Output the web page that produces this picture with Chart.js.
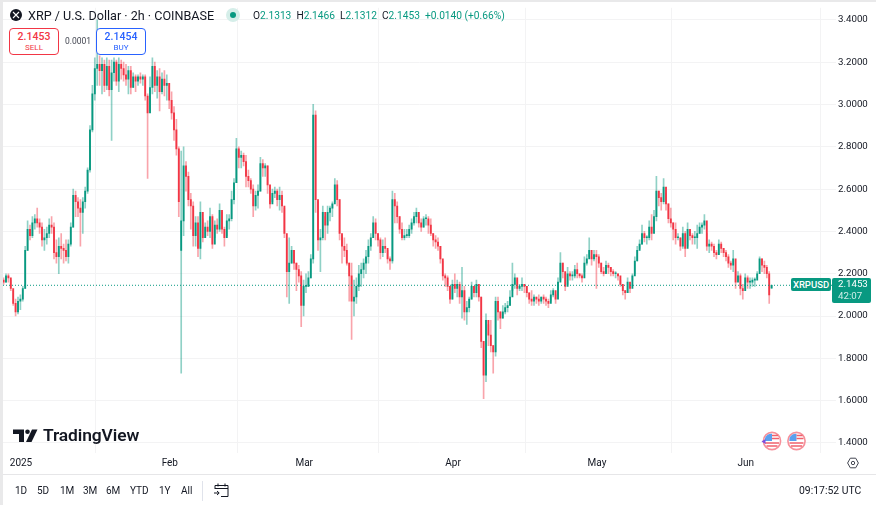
<!DOCTYPE html>
<html>
<head>
<meta charset="utf-8">
<script src="https://cdn.jsdelivr.net/npm/chart.js@4/dist/chart.umd.min.js"></script>
<style>
    html, body { margin: 0; padding: 0; background: #fff; }
    #wrap { position: relative; width: 876px; height: 505px; overflow: hidden; font-family: Roboto, sans-serif; color: #131722; }
    #wrap canvas { position: absolute; left: 0; top: 0; }
    .abs { position: absolute; white-space: nowrap; }
    .band { position: absolute; background: #e9e9ea; }
    .box { position: absolute; top: 28px; height: 25px; width: 48px; background: #fff; border: 1px solid; border-radius: 4px; text-align: center; }
    .box b { display: block; font-weight: 500; font-size: 10.5px; line-height: 13px; margin-top: 1px; }
    .box span { display: block; font-size: 8px; line-height: 10px; }
    .teal { color: #089981; }
    .range { top: 485px; font-size: 10px; line-height: 12px; }
</style>
</head>
<body>
<div id="wrap">
    <canvas id="price-chart" width="876" height="505"></canvas>

    <div class="band" style="left:0;top:0;width:876px;height:2px"></div>
    <div class="band" style="left:0;top:0;width:3px;height:505px"></div>
    <div class="abs" style="left:3px;top:474px;width:873px;height:1px;background:#e6e6e8"></div>
    <div class="abs" style="left:202px;top:481px;width:1px;height:20px;background:#e0e3eb"></div>

    <svg class="abs" style="left:10px;top:9px" width="12" height="12" viewBox="0 0 12 12">
        <circle cx="6" cy="6" r="6" fill="#131722"/>
        <path d="M3 3 L9 9 M9 3 L3 9" stroke="#fff" stroke-width="1.1"/>
    </svg>
    <div class="abs" style="left:28px;top:8px;font-size:12.6px;line-height:15px">XRP / U.S. Dollar · 2h · COINBASE</div>
    <svg class="abs" style="left:226px;top:8px" width="14" height="14" viewBox="0 0 14 14">
        <circle cx="7" cy="7" r="7" fill="#d5eee9"/>
        <circle cx="7" cy="7" r="3" fill="#089981"/>
    </svg>
    <div class="abs" style="left:253px;top:9px;font-size:10.2px;line-height:13px">O<span class="teal">2.1313</span>&nbsp; H<span class="teal">2.1466</span>&nbsp; L<span class="teal">2.1312</span>&nbsp; C<span class="teal">2.1453</span>&nbsp; <span class="teal">+0.0140 (+0.66%)</span></div>

    <div class="box" style="left:9px;border-color:#f23645;color:#f23645"><b>2.1453</b><span>SELL</span></div>
    <div class="abs" style="left:65px;top:36px;font-size:8.5px;line-height:11px;color:#434651">0.0001</div>
    <div class="box" style="left:96px;border-color:#2962ff;color:#2962ff"><b>2.1454</b><span>BUY</span></div>

    <div class="abs" style="left:791px;top:278px;width:40px;height:13px;background:#089981;color:#fff;font-size:9.5px;font-weight:500;line-height:13px;text-align:center;border-radius:2px">XRPUSD</div>
    <div class="abs" style="left:832px;top:278px;width:33px;height:25px;background:#089981;border-radius:2px;color:#fff;font-size:9.7px;line-height:12px;padding-top:0;padding-left:6px">2.1453<br><span style="color:#cfeee8">42:07</span></div>

    <svg class="abs" style="left:12px;top:428px" width="26" height="15" viewBox="0 0 26 15">
        <path d="M1 1.5 H12 V14 H7 V6 H1 Z" fill="#131722"/>
        <circle cx="15.5" cy="3.7" r="2.3" fill="#131722"/>
        <path d="M20 1.5 H25.5 L19.5 14 H14 Z" fill="#131722"/>
    </svg>
    <div class="abs" style="left:43px;top:425px;font-size:17.4px;font-weight:600;line-height:21px;letter-spacing:-0.1px">TradingView</div>

    <svg class="abs" style="left:760px;top:431px" width="48" height="20" viewBox="0 0 48 20">
        <circle cx="12" cy="10" r="8.6" fill="#fff" stroke="#f6909a" stroke-width="1.6"/>
        <path d="M5 7 A7.2 7.2 0 0 1 12 2.8 V10 H4.8 Z" fill="#5aa0ee"/>
        <path d="M12 4.5 H18 M12 7.5 H19 M5 12 H19 M6.5 15 H17.5" stroke="#f0616d" stroke-width="1.6"/>
        <path d="M1.5 10.5 L5.5 8 V13 Z" fill="#7b4fe0"/>
        <circle cx="36.5" cy="10" r="8.6" fill="#fff" stroke="#f6909a" stroke-width="1.6"/>
        <path d="M29.5 7 A7.2 7.2 0 0 1 36.5 2.8 V10 H29.3 Z" fill="#5aa0ee"/>
        <path d="M36.5 4.5 H42.5 M36.5 7.5 H43.5 M29.5 12 H43.5 M31 15 H42 " stroke="#f0616d" stroke-width="1.6"/>
    </svg>

    <svg class="abs" style="left:847px;top:457px" width="12" height="12" viewBox="0 0 12 12">
        <path d="M3.3 1.2 H8.7 L11.4 6 L8.7 10.8 H3.3 L0.6 6 Z" fill="none" stroke="#434651" stroke-width="1"/>
        <circle cx="6" cy="6" r="1.7" fill="none" stroke="#434651" stroke-width="1"/>
    </svg>

    <div class="abs range" style="left:15px">1D</div>
    <div class="abs range" style="left:37px">5D</div>
    <div class="abs range" style="left:60px">1M</div>
    <div class="abs range" style="left:83px">3M</div>
    <div class="abs range" style="left:106px">6M</div>
    <div class="abs range" style="left:130px">YTD</div>
    <div class="abs range" style="left:159px">1Y</div>
    <div class="abs range" style="left:181px">All</div>
    <svg class="abs" style="left:213px;top:482px" width="17" height="16" viewBox="0 0 17 16">
        <path d="M2 7 V3.5 H15 V14.5 H8 M2 6.5 H15 M5 1.5 V4.5 M12 1.5 V4.5 M1 11 H6 M4 9 L6.2 11 L4 13" fill="none" stroke="#131722" stroke-width="1"/>
    </svg>
    <div class="abs" style="left:799px;top:485px;font-size:10.4px;line-height:12px">09:17:52 UTC</div>
</div>

<script>
// xrp/usd candles, one every half day
const firstCandleDay = -3.625;
const candleStep = 0.5;

const opens = [
    2.17,2.16,2.19,2.18,2.13, 2.06,2.02,2.07,2.08,2.13, 2.31,2.41,2.38,2.44,2.46, 2.44,2.42,2.36,2.37,2.39,
    2.43,2.42,2.30,2.28,2.33, 2.32,2.31,2.28,2.34,2.42, 2.57,2.54,2.51,2.49,2.54, 2.59,2.69,2.88,3.05,3.17,
    3.19,3.16,3.19,3.09,3.18, 3.07,3.15,3.20,3.11,3.19, 3.17,3.14,3.12,3.16,3.08, 3.13,3.11,3.13,3.12,3.13,
    3.04,2.96,3.08,3.18,3.09, 3.13,3.06,3.12,3.09,3.10, 3.02,2.96,2.88,2.79,2.31, 2.45,2.71,2.66,2.55,2.52,
    2.38,2.44,2.32,2.49,2.37, 2.42,2.40,2.47,2.34,2.43, 2.41,2.50,2.41,2.37,2.45, 2.46,2.55,2.63,2.79,2.75,
    2.76,2.73,2.66,2.64,2.60, 2.52,2.57,2.59,2.72,2.70, 2.71,2.62,2.53,2.58,2.59, 2.55,2.57,2.52,2.39,2.21,
    2.25,2.31,2.25,2.22,2.19, 2.05,2.14,2.14,2.18,2.27, 2.95,2.55,2.36,2.37,2.49, 2.43,2.49,2.51,2.53,2.62,
    2.55,2.39,2.33,2.31,2.25, 2.19,2.07,2.09,2.14,2.20, 2.22,2.25,2.28,2.33,2.37, 2.44,2.39,2.36,2.30,2.33,
    2.32,2.27,2.26,2.55,2.52, 2.47,2.41,2.37,2.38,2.38, 2.41,2.44,2.47,2.49,2.44, 2.42,2.46,2.46,2.43,2.39,
    2.36,2.35,2.33,2.27,2.19, 2.18,2.14,2.08,2.15,2.13, 2.15,2.09,2.12,2.02,2.04, 2.08,2.14,2.11,2.15,2.09,
    1.88,1.72,1.98,1.91,1.86, 1.83,2.07,2.02,1.99,2.02, 2.04,2.05,2.09,2.15,2.18, 2.13,2.14,2.15,2.14,2.11,
    2.08,2.07,2.09,2.08,2.07, 2.09,2.08,2.07,2.06,2.10, 2.12,2.08,2.16,2.25,2.21, 2.14,2.20,2.19,2.19,2.22,
    2.20,2.19,2.18,2.25,2.27, 2.31,2.27,2.29,2.28,2.25, 2.21,2.20,2.24,2.23,2.21, 2.20,2.20,2.19,2.15,2.12,
    2.11,2.16,2.13,2.19,2.26, 2.31,2.34,2.39,2.37,2.37, 2.42,2.39,2.47,2.59,2.56, 2.54,2.61,2.53,2.46,2.44,
    2.41,2.37,2.37,2.33,2.39, 2.32,2.41,2.38,2.37,2.37, 2.39,2.42,2.43,2.45,2.33, 2.34,2.33,2.30,2.29,2.34,
    2.32,2.30,2.28,2.25,2.24, 2.27,2.16,2.19,2.13,2.12, 2.18,2.16,2.16,2.17,2.17, 2.20,2.27,2.24,2.23,2.20,
    2.1313
];
const highs = [
    2.18,2.20,2.20,2.17,2.12, 2.08,2.09,2.10,2.14,2.33, 2.45,2.43,2.47,2.48,2.51, 2.46,2.44,2.41,2.42,2.46,
    2.47,2.44,2.36,2.37,2.39, 2.34,2.36,2.36,2.44,2.60, 2.59,2.56,2.55,2.56,2.61, 2.70,2.90,3.09,3.22,3.40,
    3.23,3.22,3.21,3.22,3.21, 3.21,3.22,3.21,3.22,3.21, 3.20,3.19,3.18,3.18,3.15, 3.14,3.14,3.15,3.14,3.14,
    3.05,3.13,3.22,3.20,3.16, 3.17,3.15,3.16,3.14,3.10, 3.06,2.99,2.93,2.80,2.78, 2.80,2.73,2.68,2.58,2.54,
    2.47,2.47,2.54,2.46,2.44, 2.45,2.51,2.48,2.45,2.46, 2.53,2.49,2.42,2.48,2.48, 2.59,2.65,2.84,2.80,2.78,
    2.77,2.76,2.69,2.65,2.62, 2.59,2.62,2.75,2.74,2.72, 2.71,2.59,2.60,2.61,2.60, 2.61,2.59,2.51,2.36,2.37,
    2.33,2.31,2.25,2.24,2.21, 2.17,2.20,2.21,2.29,3.00, 2.97,2.54,2.41,2.52,2.47, 2.52,2.52,2.54,2.65,2.64,
    2.55,2.38,2.37,2.34,2.25, 2.25,2.17,2.18,2.24,2.25, 2.27,2.31,2.36,2.39,2.47, 2.46,2.39,2.37,2.36,2.37,
    2.31,2.28,2.59,2.58,2.54, 2.47,2.44,2.41,2.41,2.43, 2.46,2.49,2.51,2.47,2.46, 2.47,2.48,2.47,2.46,2.39,
    2.38,2.37,2.33,2.26,2.20, 2.19,2.14,2.17,2.20,2.17, 2.16,2.23,2.14,2.07,2.09, 2.16,2.14,2.17,2.15,2.09,
    1.88,2.01,1.96,1.98,1.86, 2.09,2.09,2.02,2.05,2.06, 2.07,2.12,2.25,2.20,2.17, 2.15,2.18,2.15,2.14,2.11,
    2.12,2.10,2.09,2.10,2.09, 2.10,2.09,2.08,2.12,2.13, 2.10,2.18,2.30,2.25,2.20, 2.23,2.21,2.21,2.24,2.25,
    2.20,2.20,2.28,2.29,2.37, 2.28,2.31,2.31,2.29,2.25, 2.23,2.26,2.25,2.23,2.22, 2.21,2.20,2.17,2.14,2.12,
    2.18,2.15,2.20,2.28,2.33, 2.36,2.43,2.40,2.38,2.45, 2.48,2.50,2.66,2.59,2.58, 2.65,2.58,2.53,2.51,2.44,
    2.44,2.39,2.37,2.42,2.40, 2.44,2.40,2.39,2.40,2.43, 2.44,2.44,2.48,2.39,2.36, 2.35,2.34,2.31,2.36,2.35,
    2.32,2.31,2.29,2.26,2.31, 2.21,2.21,2.20,2.15,2.20, 2.19,2.18,2.18,2.18,2.21, 2.28,2.27,2.26,2.24,2.21,
    2.1466
];
const lows = [
    2.15,2.16,2.16,2.12,2.05, 2.00,2.01,2.03,2.07,2.13, 2.31,2.36,2.37,2.41,2.42, 2.39,2.33,2.31,2.34,2.37,
    2.39,2.27,2.25,2.20,2.27, 2.25,2.26,2.25,2.33,2.42, 2.47,2.47,2.33,2.39,2.51, 2.58,2.68,2.87,3.02,3.09,
    3.09,3.05,3.06,3.07,3.04, 2.83,3.11,3.09,3.06,3.12, 3.11,3.09,3.05,3.05,3.08, 3.06,3.09,3.10,3.09,3.02,
    2.65,2.97,3.05,3.06,3.03, 2.97,3.05,3.04,3.02,2.98, 2.93,2.83,2.76,2.47,1.73, 2.38,2.59,2.52,2.41,2.33,
    2.33,2.28,2.27,2.35,2.37, 2.38,2.37,2.32,2.37,2.39, 2.40,2.39,2.33,2.38,2.41, 2.45,2.53,2.63,2.70,2.70,
    2.71,2.61,2.61,2.58,2.47, 2.50,2.51,2.59,2.66,2.66, 2.58,2.51,2.54,2.56,2.52, 2.50,2.49,2.37,2.09,2.06,
    2.25,2.22,2.12,2.16,1.95, 2.00,2.11,2.14,2.18,2.25, 2.49,2.31,2.21,2.36,2.36, 2.39,2.45,2.47,2.54,2.52,
    2.36,2.25,2.28,2.24,2.07, 1.89,2.00,2.06,2.12,2.14, 2.18,2.20,2.25,2.31,2.37, 2.36,2.33,2.27,2.28,2.30,
    2.25,2.22,2.25,2.44,2.44, 2.39,2.36,2.36,2.37,2.37, 2.39,2.43,2.44,2.42,2.40, 2.42,2.43,2.39,2.38,2.33,
    2.32,2.31,2.25,2.17,2.14, 2.12,2.06,2.08,2.11,2.09, 2.06,1.99,1.98,1.96,2.02, 2.08,2.09,2.09,2.07,1.85,
    1.61,1.69,1.86,1.83,1.73, 1.81,1.98,1.94,1.99,2.01, 2.02,2.05,2.12,2.13,2.10, 2.12,2.12,2.11,2.09,2.06,
    2.05,2.05,2.06,2.05,2.06, 2.06,2.05,2.04,2.07,2.09, 2.06,2.10,2.17,2.18,2.12, 2.15,2.17,2.17,2.18,2.18,
    2.18,2.16,2.21,2.24,2.28, 2.24,2.26,2.13,2.23,2.20, 2.19,2.21,2.20,2.19,2.19, 2.18,2.17,2.14,2.10,2.08,
    2.11,2.11,2.17,2.20,2.26, 2.32,2.34,2.35,2.34,2.36, 2.36,2.42,2.45,2.52,2.50, 2.53,2.50,2.44,2.42,2.36,
    2.34,2.36,2.31,2.32,2.28, 2.33,2.36,2.34,2.34,2.32, 2.39,2.39,2.41,2.31,2.30, 2.31,2.28,2.27,2.29,2.30,
    2.28,2.26,2.23,2.22,2.21, 2.13,2.17,2.10,2.08,2.13, 2.13,2.13,2.14,2.14,2.18, 2.22,2.21,2.20,2.18,2.06,
    2.1312
];
const closes = [
    2.16,2.19,2.18,2.13,2.06, 2.02,2.07,2.08,2.13,2.31, 2.41,2.38,2.44,2.46,2.44, 2.42,2.36,2.37,2.39,2.43,
    2.42,2.30,2.28,2.33,2.32, 2.31,2.28,2.34,2.42,2.57, 2.54,2.51,2.49,2.54,2.59, 2.69,2.88,3.05,3.17,3.19,
    3.16,3.19,3.09,3.18,3.07, 3.15,3.20,3.11,3.19,3.17, 3.14,3.12,3.16,3.08,3.13, 3.11,3.13,3.12,3.13,3.04,
    2.96,3.08,3.18,3.09,3.13, 3.06,3.12,3.09,3.10,3.02, 2.96,2.88,2.79,2.54,2.45, 2.71,2.66,2.55,2.52,2.38,
    2.44,2.32,2.49,2.37,2.42, 2.40,2.47,2.34,2.43,2.41, 2.50,2.41,2.37,2.45,2.46, 2.55,2.63,2.79,2.75,2.76,
    2.73,2.66,2.64,2.60,2.52, 2.57,2.59,2.72,2.70,2.71, 2.62,2.53,2.58,2.59,2.55, 2.57,2.52,2.39,2.21,2.25,
    2.31,2.25,2.22,2.19,2.05, 2.14,2.14,2.18,2.27,2.95, 2.55,2.36,2.37,2.49,2.43, 2.49,2.51,2.53,2.62,2.55,
    2.39,2.33,2.31,2.25,2.19, 2.07,2.09,2.14,2.20,2.22, 2.25,2.28,2.33,2.37,2.44, 2.39,2.36,2.30,2.33,2.32,
    2.27,2.26,2.55,2.52,2.47, 2.41,2.37,2.38,2.38,2.41, 2.44,2.47,2.49,2.44,2.42, 2.46,2.46,2.43,2.39,2.36,
    2.35,2.33,2.27,2.19,2.18, 2.14,2.08,2.15,2.13,2.15, 2.09,2.12,2.02,2.04,2.08, 2.14,2.11,2.15,2.09,1.88,
    1.72,1.98,1.91,1.86,1.83, 2.07,2.02,1.99,2.02,2.04, 2.05,2.09,2.15,2.18,2.13, 2.14,2.15,2.14,2.11,2.08,
    2.07,2.09,2.08,2.07,2.09, 2.08,2.07,2.06,2.10,2.12, 2.08,2.16,2.25,2.21,2.14, 2.20,2.19,2.19,2.22,2.20,
    2.19,2.18,2.25,2.27,2.31, 2.27,2.29,2.28,2.25,2.21, 2.20,2.24,2.23,2.21,2.20, 2.20,2.19,2.15,2.12,2.11,
    2.16,2.13,2.19,2.26,2.31, 2.34,2.39,2.37,2.37,2.42, 2.39,2.47,2.59,2.56,2.54, 2.61,2.53,2.46,2.44,2.41,
    2.37,2.37,2.33,2.39,2.32, 2.41,2.38,2.37,2.37,2.39, 2.42,2.43,2.45,2.33,2.34, 2.33,2.30,2.29,2.34,2.32,
    2.30,2.28,2.25,2.24,2.27, 2.16,2.19,2.13,2.12,2.18, 2.16,2.16,2.17,2.17,2.20, 2.27,2.24,2.23,2.20,2.10,
    2.1453
];

const lastPrice = 2.1453;
const priceTicks = [1.4, 1.6, 1.8, 2.0, 2.2, 2.4, 2.6, 2.8, 3.0, 3.2, 3.4];
const monthDays = [0, 31, 59, 90, 120, 151];
const monthLabels = ['2025', 'Feb', 'Mar', 'Apr', 'May', 'Jun'];

const upColor = '#089981';
const downColor = '#F23645';
const upWick = 'rgba(8, 153, 129, 0.45)';
const downWick = 'rgba(242, 54, 69, 0.45)';
const gridColor = '#f3f3f4';

document.addEventListener('DOMContentLoaded', function () {
    const xMin = -3.75;
    const xMax = 169.79;

    const candleDay = (i) => firstCandleDay + i * candleStep;
    const isUp = (i) => closes[i] >= opens[i];

    const wickData = closes.map((c, i) => ({ x: candleDay(i), y: [lows[i], highs[i]] }));
    const bodyData = closes.map((c, i) => ({ x: candleDay(i), y: [opens[i], c] }));

    new Chart(document.getElementById('price-chart'), {
        data: {
            datasets: [
                {
                    type: 'bar',
                    label: 'wick',
                    data: wickData,
                    barThickness: 1,
                    grouped: false,
                    backgroundColor: closes.map((c, i) => isUp(i) ? upWick : downWick),
                    order: 2
                },
                {
                    type: 'bar',
                    label: 'body',
                    data: bodyData,
                    barThickness: 1.2,
                    grouped: false,
                    minBarLength: 1,
                    backgroundColor: closes.map((c, i) => isUp(i) ? upColor : downColor),
                    order: 1
                },
                {
                    type: 'line',
                    label: 'last',
                    data: [{ x: xMin, y: lastPrice }, { x: xMax, y: lastPrice }],
                    borderColor: upColor,
                    borderWidth: 1,
                    borderDash: [1, 2],
                    pointRadius: 0,
                    order: 0
                }
            ]
        },
        options: {
            responsive: false,
            animation: false,
            layout: { padding: { left: 3, top: 7, right: 0, bottom: 31 } },
            plugins: {
                legend: { display: false },
                tooltip: { enabled: false }
            },
            scales: {
                x: {
                    type: 'linear',
                    min: xMin,
                    max: xMax,
                    offset: false,
                    border: { display: false },
                    grid: { color: gridColor, drawTicks: false },
                    afterBuildTicks: function (scale) {
                        scale.ticks = monthDays.map(v => ({ value: v }));
                    },
                    afterFit: function (scale) {
                        scale.height = 21;
                    },
                    ticks: {
                        autoSkip: false,
                        maxRotation: 0,
                        padding: 4,
                        color: '#131722',
                        font: { family: 'Roboto', size: 10 },
                        callback: function (value) {
                            return monthLabels[monthDays.indexOf(value)];
                        }
                    }
                },
                y: {
                    position: 'right',
                    min: 1.3527,
                    max: 3.4567,
                    border: { display: false },
                    grid: { color: gridColor, drawTicks: false },
                    afterBuildTicks: function (scale) {
                        scale.ticks = priceTicks.map(v => ({ value: v }));
                    },
                    afterFit: function (scale) {
                        scale.width = 40;
                    },
                    ticks: {
                        padding: 2,
                        color: '#131722',
                        font: { family: 'Roboto', size: 9.7 },
                        callback: function (value) {
                            return value.toFixed(4);
                        }
                    }
                }
            }
        }
    });
});
</script>
</body>
</html>
